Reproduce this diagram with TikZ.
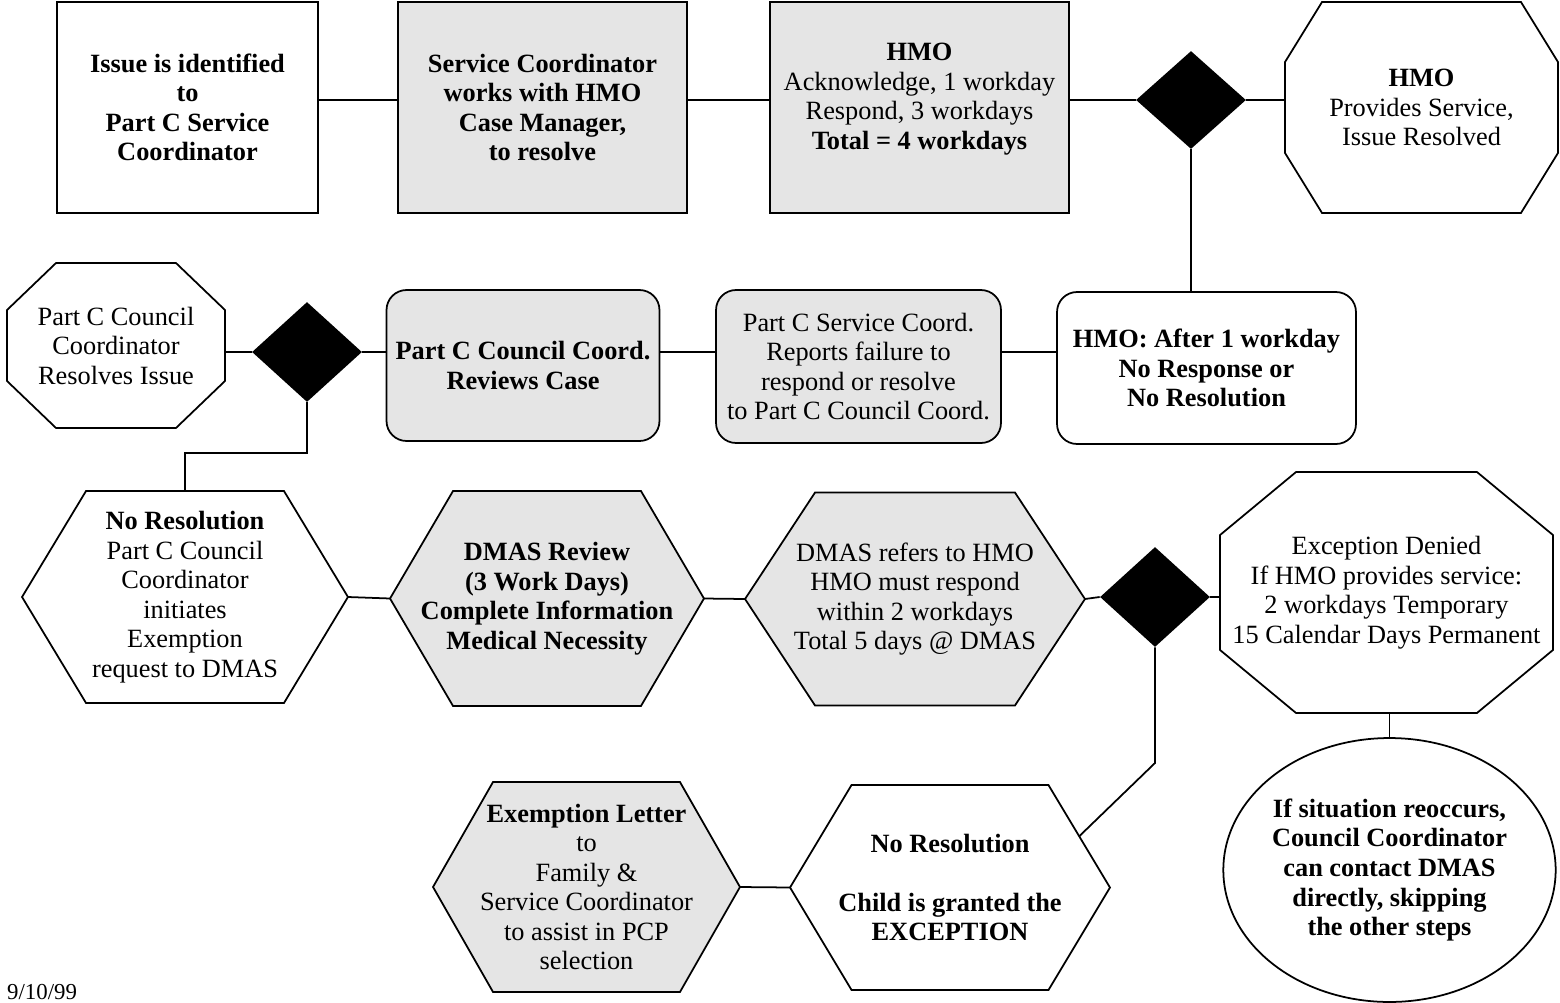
\documentclass[tikz,border=0pt]{standalone}
\usepackage{fontspec}
\setmainfont{Liberation Serif}
\usetikzlibrary{shapes.geometric,backgrounds,calc}

% outlines built from the corners of a text node
\newcommand{\hexline}[2]{([xshift=#2]#1.north west) -- ([xshift=-#2]#1.north east) -- (#1.east) -- ([xshift=-#2]#1.south east) -- ([xshift=#2]#1.south west) -- (#1.west) -- cycle}
\newcommand{\octline}[3]{([xshift=#2]#1.north west) -- ([xshift=-#2]#1.north east) -- ([yshift=-#3]#1.north east) -- ([yshift=#3]#1.south east) -- ([xshift=-#2]#1.south east) -- ([xshift=#2]#1.south west) -- ([yshift=#3]#1.south west) -- ([yshift=-#3]#1.north west) -- cycle}

\tikzset{
  every node/.style={font=\fontsize{15}{16.8}\selectfont, align=center},
  link/.style={line width=1pt},
  grayfill/.style={fill=black!10},
  sqbox/.style={draw, line width=1pt, minimum height=4.22cm, inner sep=2pt},
  rndbox/.style={draw, line width=1pt, rounded corners=0.4cm, inner sep=2pt},
  txtbox/.style={inner sep=0pt, outer sep=0pt},
  outline/.style={draw, line width=1pt},
  decision/.style={diamond, fill=black, inner sep=0pt, minimum width=2.2cm, minimum height=2cm}
}

\begin{document}
\begin{tikzpicture}[x=0.02cm, y=-0.02cm]
  \useasboundingbox (0,0) rectangle (1560,1002);

  % top row
  \node[sqbox, minimum width=5.22cm] (issue) at (187.5,107.5)
    {\textbf{Issue is identified}\\\textbf{to}\\\textbf{Part C Service}\\\textbf{Coordinator}};
  \node[sqbox, grayfill, minimum width=5.78cm] (works) at (542.5,107.5)
    {\textbf{Service Coordinator}\\\textbf{works with HMO}\\\textbf{Case Manager,}\\\textbf{to resolve}};
  \node[sqbox, grayfill, minimum width=5.98cm] (ack) at (919.5,107.5)
    {\textbf{HMO}\\Acknowledge, 1 workday\\Respond, 3 workdays\\\textbf{Total = 4 workdays}\\[-4pt]\mbox{}};
  \node[decision, minimum height=1.96cm] (d1) at (1191,100) {};
  \node[txtbox, minimum width=5.46cm, minimum height=4.22cm] (served) at (1421.5,107.5)
    {\textbf{HMO}\\Provides Service,\\Issue Resolved};

  % middle row
  \node[txtbox, minimum width=4.36cm, minimum height=3.3cm] (council) at (116,345.5)
    {Part C Council\\Coordinator\\Resolves Issue};
  \node[decision] (d2) at (307,352) {};
  \node[rndbox, grayfill, minimum width=5.46cm, minimum height=3.02cm] (reviews) at (523,365.5)
    {\textbf{Part C Council Coord.}\\\textbf{Reviews Case}};
  \node[rndbox, grayfill, minimum width=5.7cm, minimum height=3.06cm] (reports) at (858.5,366.5)
    {Part C Service Coord.\\Reports failure to\\respond or resolve\\to Part C Council Coord.};
  \node[rndbox, minimum width=5.98cm, minimum height=3.04cm] (after) at (1206.5,368)
    {\textbf{HMO: After 1 workday}\\\textbf{No Response or}\\\textbf{No Resolution}};

  % lower row
  \node[txtbox, minimum width=6.52cm, minimum height=4.24cm] (initiates) at (185,597)
    {\textbf{No Resolution}\\Part C Council\\Coordinator\\initiates\\Exemption\\request to DMAS};
  \node[txtbox, minimum width=6.28cm, minimum height=4.3cm] (dmas) at (547,598.5)
    {\textbf{DMAS Review}\\\textbf{(3 Work Days)}\\\textbf{Complete Information}\\\textbf{Medical Necessity}};
  \node[txtbox, minimum width=6.8cm, minimum height=4.26cm] (refers) at (915,599)
    {DMAS refers to HMO\\HMO must respond\\within 2 workdays\\Total 5 days @ DMAS};
  \node[decision] (d3) at (1155,597) {};
  \node[txtbox, minimum width=6.66cm, minimum height=4.82cm] (denied) at (1386.5,592.5)
    {Exception Denied\\If HMO provides service:\\2 workdays Temporary\\15 Calendar Days Permanent};
  \node[ellipse, draw, line width=1pt, inner sep=0pt, minimum width=6.1cm, minimum height=5.28cm] (again) at (1389.5,870)
    {\textbf{If situation reoccurs,}\\\textbf{Council Coordinator}\\\textbf{can contact DMAS}\\\textbf{directly, skipping}\\\textbf{the other steps}};

  % bottom row
  \node[txtbox, minimum width=6.4cm, minimum height=4.1cm] (granted) at (950,887.5)
    {\textbf{No Resolution}\\[16.8pt]\textbf{Child is granted the}\\\textbf{EXCEPTION}};
  \node[txtbox, minimum width=6.14cm, minimum height=4.2cm] (letter) at (586.5,887)
    {\textbf{Exemption Letter}\\to\\Family \&\\Service Coordinator\\to assist in PCP\\selection};

  \node[anchor=base west, font=\fontsize{13}{15}\selectfont] (date) at (1,999) {9/10/99};

  % outlines behind the texts
  \begin{scope}[on background layer]
    \draw[outline] \octline{served}{0.74cm}{1.2cm};
    \draw[outline] \octline{council}{0.98cm}{0.94cm};
    \draw[outline] \hexline{initiates}{1.28cm};
    \draw[outline, grayfill] \hexline{dmas}{1.26cm};
    \draw[outline, grayfill] \hexline{refers}{1.4cm};
    \draw[outline] \octline{denied}{1.52cm}{1.26cm};
    \draw[outline] \hexline{granted}{1.23cm};
    \draw[outline, grayfill] \hexline{letter}{1.2cm};
  \end{scope}

  % connectors
  \draw[link] (issue.east |- d1) -- (works.west |- d1);
  \draw[link] (works.east |- d1) -- (ack.west |- d1);
  \draw[link] (ack.east |- d1) -- (d1.west);
  \draw[link] (d1.east) -- (served.west |- d1);
  \draw[link] (d1.south) -- (d1.south |- after.north);

  \draw[link] (council.east |- d2) -- (d2.west);
  \draw[link] (d2.east) -- (reviews.west |- d2);
  \draw[link] (reviews.east |- d2) -- (reports.west |- d2);
  \draw[link] (reports.east |- d2) -- (after.west |- d2);

  \coordinate (bend2) at (307,453);
  \draw[link] (d2.south) -- (bend2) -| (initiates.north);

  \draw[link] (initiates.east) -- (dmas.west);
  \draw[link] (dmas.east) -- (refers.west);
  \draw[link] (refers.east) -- (d3.west);
  \draw[link] (d3.east) -- (denied.west |- d3);
  \draw[link] (again.north |- denied.south) -- (again.north);

  \coordinate (bend3) at (1155,763);
  \coordinate (hit) at ($([xshift=-1.23cm]granted.north east)!0.5!(granted.east)$);
  \draw[link] (d3.south) -- (bend3) -- (hit);

  \draw[link] (letter.east) -- (granted.west);
\end{tikzpicture}
\end{document}
